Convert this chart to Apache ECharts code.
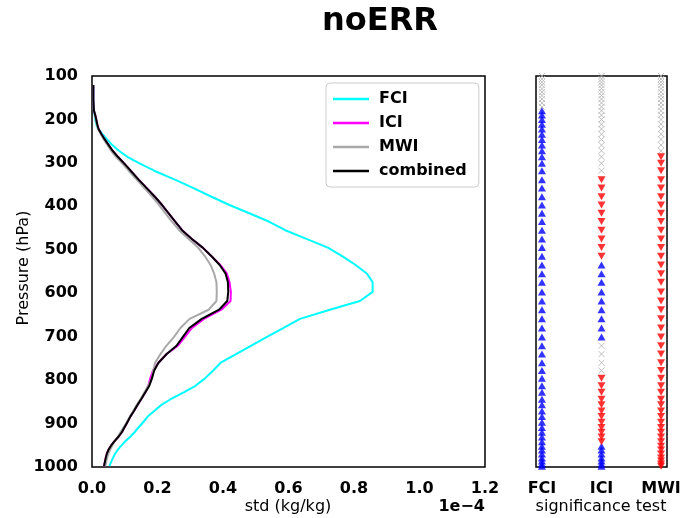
<!DOCTYPE html>
<html><head><meta charset="utf-8">
<script src="https://cdn.jsdelivr.net/npm/echarts@6/dist/echarts.min.js"></script>
<style>html,body{margin:0;padding:0;background:#fff}#c{width:684px;height:518px}</style>
</head><body><div id="c"></div>
<script>
// ---- profile data (std in units of 1e-4 kg/kg) ----
const lineLevels = [121,137,153,171,180,190,200,211,222,234,246,259,272,286,301,318,339,358,378,397,416,435,455,475,495,515,535,555,575,597,618,638,659,680,701,721,740,760,778,796,813,828,844,857,871,884,897,909,920,931,942,952,961,970,979,986,993,998];
const fciStd  = [0.004,0.004,0.004,0.005,0.006,0.008,0.010,0.013,0.019,0.032,0.046,0.062,0.082,0.108,0.145,0.190,0.255,0.310,0.365,0.420,0.480,0.540,0.590,0.655,0.720,0.765,0.805,0.840,0.857,0.857,0.818,0.726,0.635,0.585,0.533,0.485,0.440,0.393,0.370,0.345,0.316,0.280,0.240,0.212,0.190,0.170,0.156,0.142,0.130,0.116,0.100,0.088,0.078,0.070,0.064,0.060,0.056,0.053];
const iciStd  = [0.004,0.004,0.004,0.005,0.006,0.010,0.013,0.016,0.020,0.029,0.039,0.051,0.063,0.079,0.098,0.118,0.143,0.167,0.192,0.214,0.234,0.254,0.275,0.305,0.338,0.365,0.392,0.412,0.420,0.424,0.423,0.395,0.342,0.305,0.283,0.262,0.228,0.203,0.186,0.178,0.172,0.163,0.150,0.139,0.128,0.117,0.108,0.099,0.091,0.080,0.067,0.057,0.050,0.045,0.042,0.040,0.038,0.037];
const mwiStd  = [0.004,0.004,0.004,0.005,0.006,0.009,0.012,0.015,0.019,0.027,0.036,0.047,0.058,0.073,0.092,0.112,0.137,0.160,0.184,0.205,0.224,0.244,0.266,0.295,0.324,0.345,0.362,0.373,0.380,0.381,0.380,0.356,0.298,0.270,0.250,0.227,0.209,0.193,0.187,0.183,0.172,0.160,0.148,0.137,0.126,0.116,0.106,0.096,0.087,0.078,0.068,0.061,0.055,0.050,0.046,0.044,0.042,0.040];
const combStd = [0.004,0.004,0.004,0.005,0.006,0.010,0.013,0.016,0.020,0.029,0.039,0.051,0.063,0.079,0.098,0.118,0.143,0.167,0.192,0.214,0.234,0.254,0.275,0.305,0.338,0.365,0.390,0.408,0.415,0.416,0.413,0.388,0.335,0.297,0.277,0.258,0.228,0.203,0.190,0.183,0.175,0.163,0.150,0.139,0.128,0.117,0.108,0.099,0.091,0.080,0.067,0.057,0.050,0.045,0.042,0.040,0.038,0.037];

// ---- significance test (1 = up/blue, -1 = down/red, 0 = not significant) ----
const sigLevels = [100,107,114,121,129,137,145,153,162,171,180,190,200,211,222,234,246,259,272,286,301,318,339,358,378,397,416,435,455,475,495,515,535,555,575,597,618,638,659,680,701,721,740,760,778,796,813,828,844,857,871,884,897,909,920,931,942,952,961,970,979,986,993,998];
const sigFCI = [0,0,0,0,0,0,0,0,0,0,
                1,1,1,1,1,1,1,1,1,1,
                1,1,1,1,1,1,1,1,1,1,
                1,1,1,1,1,1,1,1,1,1,
                1,1,1,1,1,1,1,1,1,1,
                1,1,1,1,1,1,1,1,1,1,
                1,1,1,1];
const sigICI = [0,0,0,0,0,0,0,0,0,0,
                0,0,0,0,0,0,0,0,0,0,
                0,0,-1,-1,-1,-1,-1,-1,-1,-1,
                -1,-1,1,1,1,1,1,1,1,1,
                1,0,0,0,0,-1,-1,-1,-1,-1,
                -1,-1,-1,-1,-1,-1,-1,1,1,1,
                1,1,1,1];
const sigMWI = [0,0,0,0,0,0,0,0,0,0,
                0,0,0,0,0,0,0,0,0,-1,
                -1,-1,-1,-1,-1,-1,-1,-1,-1,-1,
                -1,-1,-1,-1,-1,-1,-1,-1,-1,-1,
                -1,-1,-1,-1,-1,-1,-1,-1,-1,-1,
                -1,-1,-1,-1,-1,-1,-1,-1,-1,-1,
                -1,-1,-1,-1];
const sigNames = ['FCI','ICI','MWI'];

const FONT = 'DejaVu Sans';
const chart = echarts.init(document.getElementById('c'), null, {renderer:'canvas'});

const up = [], down = [], ns = [];
[sigFCI, sigICI, sigMWI].forEach((arr, c) => {
  arr.forEach((s, i) => {
    const pt = [c, sigLevels[i]];
    if (s === 1) up.push(pt); else if (s === -1) down.push(pt); else ns.push(pt);
  });
});

function mkLine(name, vals, color, z) {
  return {
    name, type:'line', xAxisIndex:0, yAxisIndex:0,
    data: lineLevels.map((p, i) => [vals[i], p]),
    symbol:'none', showSymbol:false, smooth:false, z,
    color, lineStyle:{color, width:2}
  };
}

const lblStyle = {fontSize:16, fontWeight:'bold', color:'#000', fontFamily:FONT};

const option = {
  animation:false,
  backgroundColor:'#fff',
  grid:[
    {left:92, top:76, width:393, height:391, show:true, borderColor:'#000', borderWidth:1.5, backgroundColor:'transparent'},
    {left:536, top:76, width:131, height:391, show:true, borderColor:'#000', borderWidth:1.5, backgroundColor:'transparent'}
  ],
  xAxis:[
    {gridIndex:0, type:'value', min:0, max:1.2, interval:0.2,
     axisLine:{show:false}, axisTick:{show:false}, splitLine:{show:false},
     axisLabel:Object.assign({margin:14, formatter:v=>v.toFixed(1), showMinLabel:true, showMaxLabel:true}, lblStyle)},
    {gridIndex:1, type:'value', min:-0.1, max:2.1,
     axisLine:{show:false}, axisTick:{show:false}, splitLine:{show:false},
     axisLabel:Object.assign({margin:14, customValues:[0,1,2], formatter:v=>sigNames[Math.round(v)]}, lblStyle)}
  ],
  yAxis:[
    {gridIndex:0, type:'value', inverse:true, min:100, max:1000, interval:100,
     axisLine:{show:false}, axisTick:{show:false}, splitLine:{show:false},
     axisLabel:Object.assign({margin:14, formatter:v=>String(v)}, lblStyle)},
    {gridIndex:1, type:'value', inverse:true, min:100, max:1000, interval:100,
     axisLine:{show:false}, axisTick:{show:false}, splitLine:{show:false},
     axisLabel:{show:false}}
  ],
  legend:{
    data:['FCI','ICI','MWI','combined'],
    left:326, top:83, orient:'vertical',
    icon:'rect', itemWidth:36, itemHeight:2.5, itemGap:8,
    padding:[8,12,8,7],
    borderColor:'#cccccc', borderWidth:1, borderRadius:4, backgroundColor:'#fff',
    textStyle:{fontSize:16, fontWeight:'bold', color:'#000', fontFamily:FONT, lineHeight:16, padding:[0,0,0,5]}
  },
  graphic:[
    {type:'text', x:380, y:22, style:{text:'noERR', align:'center', verticalAlign:'middle', fontSize:32, fontWeight:'bold', fontFamily:FONT, fill:'#000'}},
    {type:'text', x:24, y:268, rotation:Math.PI/2, style:{text:'Pressure (hPa)', align:'center', verticalAlign:'middle', fontSize:16, fontFamily:FONT, fill:'#000'}},
    {type:'text', x:288, y:507, style:{text:'std (kg/kg)', align:'center', verticalAlign:'middle', fontSize:16, fontFamily:FONT, fill:'#000'}},
    {type:'text', x:485, y:507, style:{text:'1e\u22124', align:'right', verticalAlign:'middle', fontSize:16, fontWeight:'bold', fontFamily:FONT, fill:'#000'}},
    {type:'text', x:601, y:507, style:{text:'significance test', align:'center', verticalAlign:'middle', fontSize:16, fontFamily:FONT, fill:'#000'}}
  ],
  series:[
    mkLine('FCI', fciStd, '#00ffff', 2),
    mkLine('ICI', iciStd, '#ff00ff', 3),
    mkLine('MWI', mwiStd, '#a9a9a9', 4),
    mkLine('combined', combStd, '#000000', 5),
    {name:'ns', type:'scatter', xAxisIndex:1, yAxisIndex:1, data:ns,
     symbol:'path://M0,0L10,10M0,10L10,0', symbolSize:6,
     itemStyle:{color:'rgba(0,0,0,0)', borderColor:'#b0b0b0', borderWidth:1}},
    {name:'up', type:'scatter', xAxisIndex:1, yAxisIndex:1, data:up,
     symbol:'triangle', symbolSize:[8,7], itemStyle:{color:'#0000ff'}},
    {name:'down', type:'scatter', xAxisIndex:1, yAxisIndex:1, data:down,
     symbol:'triangle', symbolRotate:180, symbolSize:[8,7], itemStyle:{color:'#ff0000'}}
  ]
};
chart.setOption(option);
</script>
</body></html>
